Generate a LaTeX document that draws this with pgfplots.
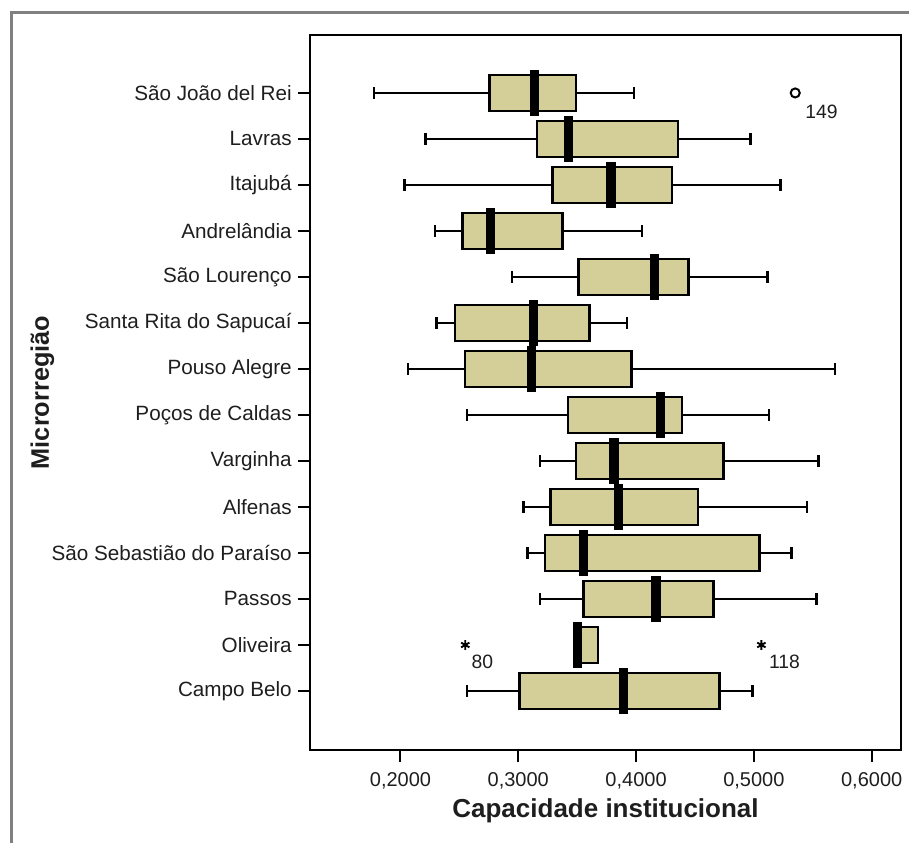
\documentclass[border=0pt]{standalone}
\usepackage{fontspec}
\setmainfont{Liberation Sans}
\usepackage{pgfplots}
\pgfplotsset{compat=1.18}
\usepgfplotslibrary{statistics}
\definecolor{boxfill}{RGB}{212,207,153}
\definecolor{framegray}{RGB}{128,128,128}
\definecolor{txt}{RGB}{30,30,30}
\begin{document}
\begin{tikzpicture}[x=0.75pt,y=0.75pt]
\path[use as bounding box] (0,0) rectangle (909,842);
\draw[framegray, line width=2.25pt] (11,-5) -- (11,829) -- (915,829);
\begin{axis}[
  at={(232.5pt,69pt)}, anchor=south west,
  width=443.25pt, height=536.25pt, scale only axis,
  xmin=0.1232, xmax=0.6249, ymin=-0.283, ymax=15.26,
  xtick={0.2,0.3,0.4,0.5,0.6},
  ytick={1,...,14},
  yticklabels={Campo Belo,Oliveira,Passos,São Sebastião do Paraíso,Alfenas,Varginha,Poços de Caldas,Pouso Alegre,Santa Rita do Sapucaí,São Lourenço,Andrelândia,Itajubá,Lavras,São João del Rei},
  xticklabel style={font=\fontsize{15}{18}\selectfont, text=txt, yshift=-4pt,
    /pgf/number format/fixed, /pgf/number format/fixed zerofill, /pgf/number format/precision=4,
    /pgf/number format/use comma, /pgf/number format/assume math mode=true},
  yticklabel style={font=\fontsize{15.5}{18}\selectfont, text=txt, inner sep=2pt, xshift=-2.5pt},
  tick align=outside, major tick length=9pt,
  xtick pos=bottom, ytick pos=left,
  tick style={line width=1.5pt, black},
  axis line style={line width=1.5pt},
  xlabel={Capacidade institucional},
  ylabel={Microrregião},
  xlabel style={font=\bfseries\fontsize{19.5}{22}\selectfont, text=txt, at={(axis description cs:0.5,-0.0937)}, anchor=base},
  ylabel style={font=\bfseries\fontsize{19}{22}\selectfont, text=txt, at={(axis description cs:-0.4530,0.5)}, anchor=center},
  boxplot/draw direction=x,
  boxplot/box extend=0.78,
  boxplot/whisker extend=0.26,
  boxplot/every median/.style={line width=7pt, line cap=rect},
  clip=false,
]
\pgfplotsset{bx/.style={draw=black, line width=1.8pt, fill=boxfill, solid}}
\addplot[bx, boxplot prepared={lower whisker=0.1776, lower quartile=0.2755, median=0.3137, upper quartile=0.3489, upper whisker=0.3984, draw position=14}] coordinates {};
\addplot[bx, boxplot prepared={lower whisker=0.2211, lower quartile=0.3160, median=0.3424, upper quartile=0.4354, upper whisker=0.4973, draw position=13}] coordinates {};
\addplot[bx, boxplot prepared={lower whisker=0.2033, lower quartile=0.3292, median=0.3787, upper quartile=0.4307, upper whisker=0.5227, draw position=12}] coordinates {};
\addplot[bx, boxplot prepared={lower whisker=0.2293, lower quartile=0.2527, median=0.2765, upper quartile=0.3375, upper whisker=0.4050, draw position=11}] coordinates {};
\addplot[bx, boxplot prepared={lower whisker=0.2946, lower quartile=0.3510, median=0.4156, upper quartile=0.4446, upper whisker=0.5115, draw position=10}] coordinates {};
\addplot[bx, boxplot prepared={lower whisker=0.2306, lower quartile=0.2465, median=0.3127, upper quartile=0.3605, upper whisker=0.3925, draw position=9}] coordinates {};
\addplot[bx, boxplot prepared={lower whisker=0.2066, lower quartile=0.2547, median=0.3110, upper quartile=0.3961, upper whisker=0.5689, draw position=8}] coordinates {};
\addplot[bx, boxplot prepared={lower whisker=0.2567, lower quartile=0.3424, median=0.4208, upper quartile=0.4390, upper whisker=0.5128, draw position=7}] coordinates {};
\addplot[bx, boxplot prepared={lower whisker=0.3183, lower quartile=0.3490, median=0.3813, upper quartile=0.4742, upper whisker=0.5550, draw position=6}] coordinates {};
\addplot[bx, boxplot prepared={lower whisker=0.3045, lower quartile=0.3273, median=0.3852, upper quartile=0.4528, upper whisker=0.5451, draw position=5}] coordinates {};
\addplot[bx, boxplot prepared={lower whisker=0.3078, lower quartile=0.3225, median=0.3556, upper quartile=0.5049, upper whisker=0.5319, draw position=4}] coordinates {};
\addplot[bx, boxplot prepared={lower whisker=0.3183, lower quartile=0.3553, median=0.4169, upper quartile=0.4657, upper whisker=0.5533, draw position=3}] coordinates {};
\addplot[bx, boxplot prepared={lower whisker=0.3495, lower quartile=0.3495, median=0.3505, upper quartile=0.3677, upper whisker=0.3677, draw position=2}] coordinates {};
\addplot[bx, boxplot prepared={lower whisker=0.2567, lower quartile=0.3012, median=0.3895, upper quartile=0.4708, upper whisker=0.4988, draw position=1}] coordinates {};
% outliers
\addplot[only marks, mark=o, mark size=3.4pt, mark options={line width=1.5pt, black}] coordinates {(0.5351,14)};
\addplot[only marks, mark=asterisk, mark size=3.6pt, mark options={line width=1.4pt, black}] coordinates {(0.2550,2) (0.5064,2)};
\node[anchor=north west, inner sep=0pt, font=\fontsize{14.5}{16}\selectfont, text=txt, xshift=7.5pt, yshift=-8.5pt] at (axis cs:0.5351,14) {149};
\node[anchor=north west, inner sep=0pt, font=\fontsize{14.5}{16}\selectfont, text=txt, xshift=4.5pt, yshift=-7.5pt] at (axis cs:0.2550,2) {80};
\node[anchor=north west, inner sep=0pt, font=\fontsize{14.5}{16}\selectfont, text=txt, xshift=5.5pt, yshift=-7.5pt] at (axis cs:0.5064,2) {118};
\end{axis}
\end{tikzpicture}
\end{document}
